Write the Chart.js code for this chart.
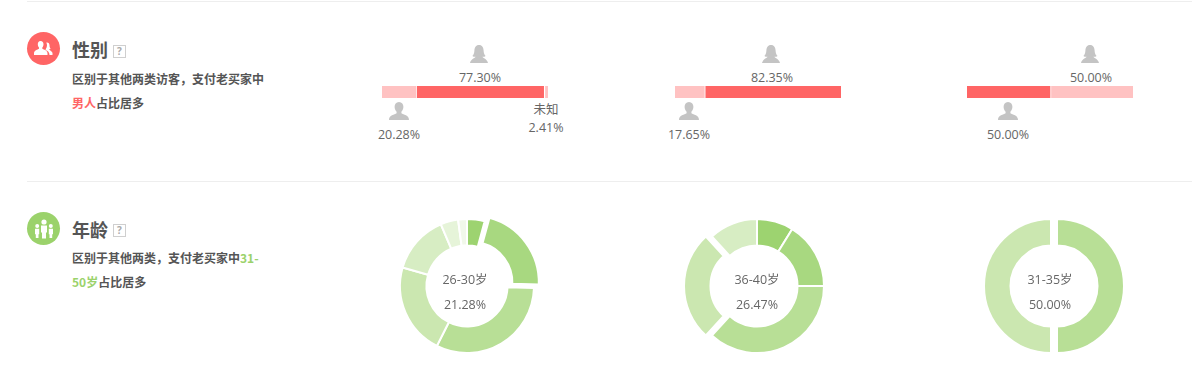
<!DOCTYPE html>
<html>
<head>
<meta charset="utf-8">
<script src="https://cdn.jsdelivr.net/npm/chart.js@4"></script>
<style>
    body { margin: 0; width: 1192px; height: 367px; overflow: hidden; background: #fff; position: relative;
        font-family: "Open Sans", "Noto Sans CJK SC", sans-serif; color: #666; font-size: 12.5px; }
    canvas, .txt, .line, .dot, .help, svg { position: absolute; }
    .txt { white-space: nowrap; transform: translate(-50%, -50%); line-height: 16px; }
    .line { left: 27px; right: 0; height: 1px; background: #eeeeee; }
    .dot { left: 27px; width: 33px; height: 33px; border-radius: 50%; }
    .title { position: absolute; left: 72px; font: bold 18px/24px "Noto Sans CJK SC"; color: #555; }
    .desc { position: absolute; left: 72px; width: 200px; font: bold 12px/24px "Noto Sans CJK SC"; color: #555; }
    .help { left: 113px; width: 11px; height: 11px; border: 1px solid #cfcfcf; font: bold 10px/11px "Open Sans"; color: #aaa; text-align: center; }
</style>
</head>
<body>
<svg width="0" height="0">
    <symbol id="male" viewBox="0 0 20 18">
        <path d="M10 0c3 0 4.400 2.200 4.400 4.800 0 2-.8 3.800-2 5v1.500c2 1.300 7.600 1.800 7.600 6.700H0c0-4.900 5.600-5.400 7.600-6.700V9.800c-1.200-1.200-2-3-2-5C5.600 2.200 7 0 10 0z"/>
    </symbol>
    <symbol id="female" viewBox="0 0 18 18">
        <path d="M9 0c3.200 0 4.500 2.500 4.600 5.500.1 2.500.8 4.300 2 5.500-.8.700-2 .9-3.200.8.600 1.500 4.600 2 5.600 6.200H0c1-4.200 5-4.700 5.600-6.200-1.200.1-2.400-.1-3.200-.8 1.200-1.200 1.900-3 2-5.500C4.500 2.500 5.800 0 9 0z"/>
    </symbol>
    <symbol id="people" viewBox="0 0 20 16">
        <path d="M6.500 0c2 0 3 1.500 3 3.300 0 1.300-.5 2.500-1.200 3.300v1.200c1.500.9 5.200 1.300 5.200 4.700V14H0v-1.500c0-3.400 3.700-3.800 5-4.700V6.600c-.7-.8-1.200-2-1.200-3.300C3.800 1.500 4.700 0 6.500 0zM13 1.500c1.700 0 2.500 1.300 2.500 2.800 0 1.500.4 2.700 1.100 3.500-.4.400-1 .6-1.700.6.300.8 3.100 1.200 3.600 3.700V14h-3c0-2.800-1.600-4-4-5 .2-.3.300-.6.300-1 .8-1 1.200-2.300 1.200-3.700 0-1.100-.3-1.800-.7-2.500.2-.2.400-.3.700-.3z"/>
    </symbol>
    <symbol id="family" viewBox="0 0 20 20">
        <circle cx="10" cy="3" r="2.600"/><circle cx="3.200" cy="7" r="2"/><circle cx="16.800" cy="7" r="2"/>
        <path d="M7 6.500h6v7h-1v6H8v-6H7zM1 9.800h4.200v5.400h-.7V19H1.800v-3.800H1zM14.800 9.800H19v5.400h-.8V19h-2.700v-3.800h-.7z"/>
    </symbol>
</svg>

<div class="line" style="top:1px"></div>
<div class="dot" style="top:32px;background:#ff6565"></div>
<svg style="left:34px;top:41px;fill:#fff" width="20" height="16"><use href="#people"/></svg>
<div class="title" style="top:37px">性别</div>
<div class="help" style="top:45px">?</div>
<div class="desc" style="top:67px">区别于其他两类访客，支付老买家中<br><span style="color:#ff6565">男人</span>占比居多</div>

<div class="line" style="top:181px"></div>
<div class="dot" style="top:212px;background:#9bd26b"></div>
<svg style="left:34px;top:219px;fill:#fff" width="20" height="20"><use href="#family"/></svg>
<div class="title" style="top:217px">年龄</div>
<div class="help" style="top:224px">?</div>
<div class="desc" style="top:246px">区别于其他两类，支付老买家中<span style="color:#9bd26b">31-</span><br><span style="color:#9bd26b">50岁</span>占比居多</div>

<script>
// 性别
const gender_male = [20.28, 17.65, 50.00];
const gender_female = [77.30, 82.35, 50.00];
const gender_unknown = [2.41, 0, 0];
const unknown_label = "未知";

// 年龄 (each ring starts at the top, clockwise)
const age_ring1 = [4.26, 21.28, 32.00, 22.10, 14.20, 4.26, 2.13];
const age_ring2 = [8.82, 16.18, 36.76, 26.47, 11.76];
const age_ring3 = [50.00, 50.00];
const age_names = ["26-30岁", "36-40岁", "31-35岁"];
const age_shown = [21.28, 26.47, 50.00];

const dark_red = "#ff6565";
const light_red = "#ffc2c2";
const greens = ["#9dd370", "#a8d880", "#b8df96", "#cbe7b0", "#d7edc3", "#e6f4d9", "#f1f8ea"];

function text(str, x, y) {
    const el = document.createElement("div");
    el.className = "txt";
    el.textContent = str;
    el.style.left = x + "px";
    el.style.top = y + "px";
    document.body.append(el);
}

function person(kind, x, y) {
    const w = kind == "male" ? 20 : 18;
    const svg = document.createElementNS("http://www.w3.org/2000/svg", "svg");
    svg.setAttribute("width", w);
    svg.setAttribute("height", 18);
    svg.style.left = (x - w / 2) + "px";
    svg.style.top = y + "px";
    svg.style.fill = "#c4c4c4";
    const use = document.createElementNS("http://www.w3.org/2000/svg", "use");
    use.setAttribute("href", "#" + kind);
    svg.append(use);
    document.body.append(svg);
}

function canvas(x, y, w, h) {
    const c = document.createElement("canvas");
    c.width = w;
    c.height = h;
    c.style.left = x + "px";
    c.style.top = y + "px";
    document.body.append(c);
    return c;
}

function genderBar(x, parts) {
    const datasets = parts.map((p, i) => ({
        label: p.label,
        data: [p.value],
        backgroundColor: p.color,
        borderColor: "#fff",
        borderSkipped: false,
        borderWidth: { top: 0, bottom: 0, left: i > 0 ? 1.5 : 0, right: 0 }
    }));
    new Chart(canvas(x, 86, 166, 12), {
        type: "bar",
        data: { labels: ["性别"], datasets: datasets },
        options: {
            indexAxis: "y",
            responsive: false,
            animation: false,
            events: [],
            barPercentage: 1,
            categoryPercentage: 1,
            plugins: { legend: { display: false }, tooltip: { enabled: false } },
            scales: {
                x: { display: false, stacked: true, min: 0, max: 100 },
                y: { display: false, stacked: true }
            }
        }
    });
}

// the offset option also grows the arc's radius, the picture only slides the slice out
const slideSlice = {
    id: "slideSlice",
    beforeDatasetsDraw(chart, args, opts) {
        const arc = chart.getDatasetMeta(0).data[opts.index];
        const draw = arc.draw;
        arc.draw = function (ctx) {
            const mid = (this.startAngle + this.endAngle) / 2;
            ctx.save();
            ctx.translate(Math.cos(mid) * opts.by, Math.sin(mid) * opts.by);
            draw.call(this, ctx);
            ctx.restore();
        };
    }
};

function ageRing(cx, values, colors, big) {
    new Chart(canvas(cx - 80, 206, 160, 160), {
        type: "doughnut",
        data: {
            labels: values.map((v, i) => "段" + (i + 1)),
            datasets: [{
                data: values,
                backgroundColor: colors,
                borderColor: "#fff",
                borderWidth: 2,
                hoverOffset: 0
            }]
        },
        options: {
            responsive: false,
            animation: false,
            events: [],
            cutout: "60.5%",
            layout: { padding: 12 },
            plugins: {
                legend: { display: false },
                tooltip: { enabled: false },
                slideSlice: { index: big, by: 6 }
            }
        },
        plugins: [slideSlice]
    });
}

const pct = v => v.toFixed(2) + "%";

genderBar(382, [
    { label: "男", value: gender_male[0], color: light_red },
    { label: "女", value: gender_female[0], color: dark_red },
    { label: unknown_label, value: gender_unknown[0], color: light_red }
]);
genderBar(675, [
    { label: "男", value: gender_male[1], color: light_red },
    { label: "女", value: gender_female[1], color: dark_red }
]);
genderBar(967, [
    { label: "男", value: gender_male[2], color: dark_red },
    { label: "女", value: gender_female[2], color: light_red }
]);

person("female", 479, 45);
text(pct(gender_female[0]), 480, 77.5);
person("male", 399, 102);
text(pct(gender_male[0]), 399, 134.5);
text(unknown_label, 546, 110);
text(pct(gender_unknown[0]), 546, 127.5);

person("female", 771, 45);
text(pct(gender_female[1]), 772, 77.5);
person("male", 689, 102);
text(pct(gender_male[1]), 689, 134.5);

person("female", 1090, 45);
text(pct(gender_female[2]), 1091, 77.5);
person("male", 1008, 102);
text(pct(gender_male[2]), 1008, 134.5);

ageRing(467, age_ring1, greens.slice(0, 7), 1);
ageRing(757, age_ring2, greens.slice(0, 5), 3);
ageRing(1057, age_ring3, greens.slice(2, 4), 1);

text(age_names[0], 465, 280);
text(pct(age_shown[0]), 465, 305);
text(age_names[1], 757, 280);
text(pct(age_shown[1]), 757, 305);
text(age_names[2], 1050, 280);
text(pct(age_shown[2]), 1050, 305);
</script>
</body>
</html>
